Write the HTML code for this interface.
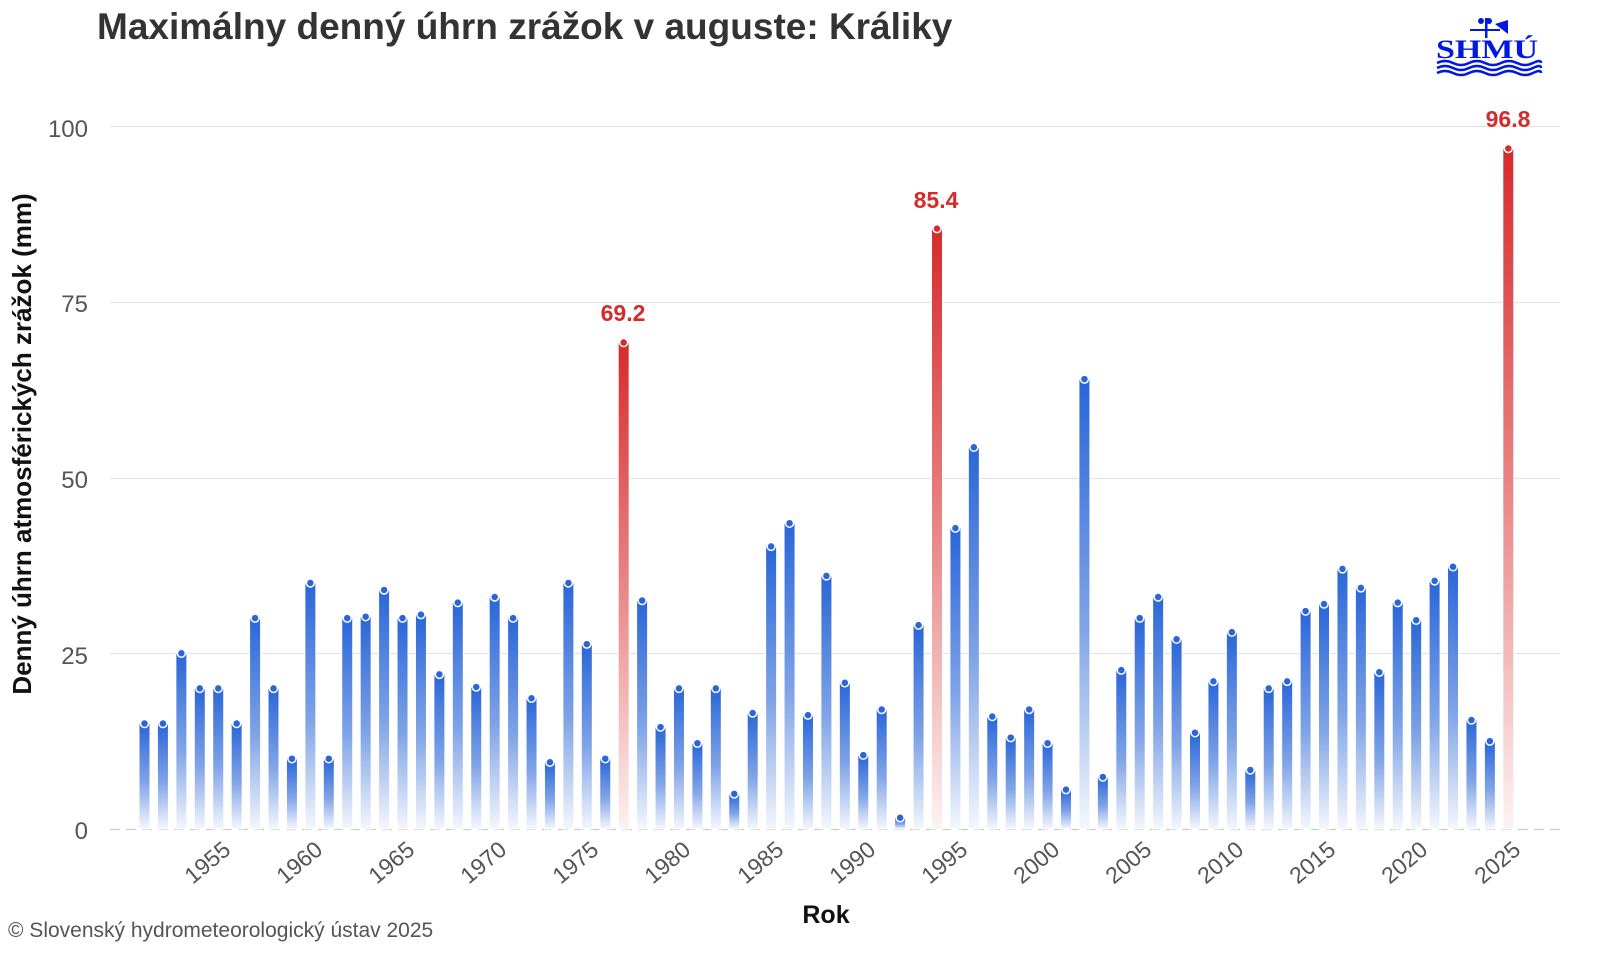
<!DOCTYPE html>
<html><head><meta charset="utf-8"><style>
body{margin:0;background:#fff;width:1600px;height:960px;overflow:hidden;font-family:"Liberation Sans",sans-serif}
</style></head><body>
<svg id="s" width="1600" height="960" xmlns="http://www.w3.org/2000/svg" font-family="Liberation Sans, sans-serif">
<defs>
<linearGradient id="gb" x1="0" y1="0" x2="0" y2="1"><stop offset="0" stop-color="#2a66d9"/><stop offset="0.55" stop-color="#7fa3e6"/><stop offset="1" stop-color="#f4f7fd"/></linearGradient>
<linearGradient id="gr" x1="0" y1="0" x2="0" y2="1"><stop offset="0" stop-color="#d62b2b"/><stop offset="0.55" stop-color="#ea8f8f"/><stop offset="1" stop-color="#fdf2f2"/></linearGradient>
</defs>
<text x="97" y="39" font-size="37" font-weight="bold" fill="#333">Maximálny denný úhrn zrážok v auguste: Králiky</text>
<g stroke="#e3e3e3" stroke-width="1.3">
<line x1="110" x2="1560" y1="126.5" y2="126.5"/><line x1="110" x2="1560" y1="302.5" y2="302.5"/><line x1="110" x2="1560" y1="478.5" y2="478.5"/><line x1="110" x2="1560" y1="653.5" y2="653.5"/>
</g>
<line x1="110" x2="1560" y1="829.5" y2="829.5" stroke="#ccc" stroke-width="1.3" stroke-dasharray="10,6"/>
<g font-size="24" fill="#555" text-anchor="end">
<text x="88" y="137">100</text><text x="88" y="312">75</text><text x="88" y="488">50</text><text x="88" y="664">25</text><text x="88" y="839">0</text>
</g>
<text transform="translate(31,444) rotate(-90)" font-size="26" font-weight="bold" fill="#111" text-anchor="middle">Denný úhrn atmosférických zrážok (mm)</text>
<g font-size="23" fill="#555" text-anchor="end">
<text transform="translate(232,852) rotate(-40)">1955</text>
<text transform="translate(324,852) rotate(-40)">1960</text>
<text transform="translate(416,852) rotate(-40)">1965</text>
<text transform="translate(508,852) rotate(-40)">1970</text>
<text transform="translate(600,852) rotate(-40)">1975</text>
<text transform="translate(692,852) rotate(-40)">1980</text>
<text transform="translate(785,852) rotate(-40)">1985</text>
<text transform="translate(877,852) rotate(-40)">1990</text>
<text transform="translate(969,852) rotate(-40)">1995</text>
<text transform="translate(1061,852) rotate(-40)">2000</text>
<text transform="translate(1153,852) rotate(-40)">2005</text>
<text transform="translate(1245,852) rotate(-40)">2010</text>
<text transform="translate(1337,852) rotate(-40)">2015</text>
<text transform="translate(1429,852) rotate(-40)">2020</text>
<text transform="translate(1522,852) rotate(-40)">2025</text>
</g>
<text x="826" y="923" font-size="25" font-weight="bold" fill="#111" text-anchor="middle">Rok</text>
<text x="8" y="937" font-size="21" fill="#555">© Slovenský hydrometeorologický ústav 2025</text>
<g font-size="23" font-weight="bold" fill="#d62b2b" text-anchor="middle">
<text x="623" y="321">69.2</text><text x="936" y="208">85.4</text><text x="1508" y="127">96.8</text>
</g>
<g id="bars"></g>
<g fill="#0018e0">
<text x="1487" y="58" font-size="26" font-weight="bold" font-family="Liberation Serif, serif" text-anchor="middle" textLength="102" lengthAdjust="spacingAndGlyphs">SHMÚ</text>
<rect x="1470" y="29" width="30" height="2"/><circle cx="1481" cy="21" r="3"/><circle cx="1489" cy="21" r="3"/><rect x="1485" y="18" width="2.5" height="20"/><path d="M1495 24 L1508 20 L1508 34 Z"/>
<path d="M1437 63 q8 -4 16 0 t16 0 t16 0 t16 0 t16 0 t16 0 t8 0" stroke="#0018e0" stroke-width="2.5" fill="none"/>
<path d="M1437 68 q8 -4 16 0 t16 0 t16 0 t16 0 t16 0 t16 0 t8 0" stroke="#0018e0" stroke-width="2.5" fill="none"/>
<path d="M1437 73 q8 -4 16 0 t16 0 t16 0 t16 0 t16 0 t16 0 t8 0" stroke="#0018e0" stroke-width="2.5" fill="none"/>
</g>
</svg>
<script>
var v=[15,15,25,20,20,15,30,20,10,35,10,30,30.2,34,30,30.5,22,32.2,20.2,33,30,18.6,9.5,35,26.3,10,69.2,32.5,14.5,20,12.2,20,5,16.5,40.2,43.5,16.2,36,20.8,10.5,17,1.6,29,85.4,42.8,54.3,16,13,17,12.2,5.6,64,7.4,22.6,30,33,27,13.7,21,28,8.4,20,21,31,32,37,34.3,22.3,32.2,29.7,35.3,37.3,15.5,12.5,96.8];
var red={1977:1,1994:1,2025:1},g=document.getElementById('bars'),h='';
for(var i=0;i<v.length;i++){var yr=1951+i,x=144.5+i*18.43,y=829-v[i]*7.03,r=red[yr];
h+='<rect x="'+(x-5.5)+'" y="'+y+'" width="11" height="'+(829-y)+'" fill="url(#'+(r?'gr':'gb')+')" stroke="#fff" stroke-width="1"/>';
h+='<circle cx="'+x+'" cy="'+y+'" r="4" fill="'+(r?'#d62b2b':'#2a66d9')+'" stroke="#fff" stroke-width="1.5"/>';}
g.innerHTML=h;
</script>
</body></html>
